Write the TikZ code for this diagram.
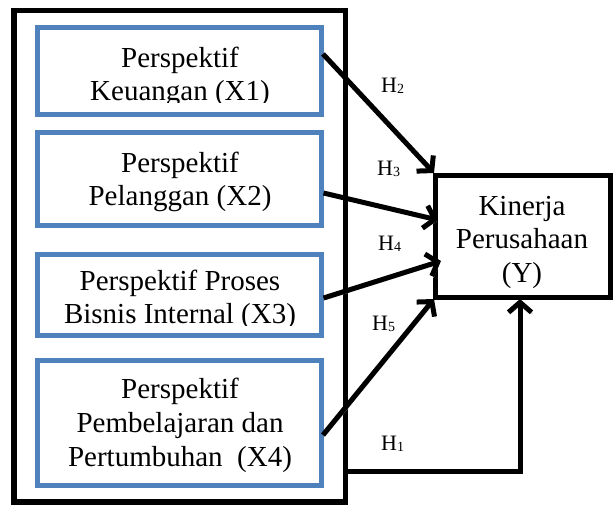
\documentclass[tikz,border=0pt]{standalone}
\usepackage{fontspec}
\setmainfont{Liberation Serif}
\usetikzlibrary{arrows.meta,calc}
\definecolor{boxblue}{RGB}{79,129,189}
\newcommand\mylines[1]{\begin{tabular}[t]{@{}c@{}}#1\end{tabular}}
\newcommand\hsub[1]{H\raisebox{-1pt}{\fontsize{14}{14}\selectfont #1}}
\begin{document}
\begin{tikzpicture}[x=1pt,y=-1pt,
  bluebox/.style={draw=boxblue, line width=5pt, inner sep=0pt, outer sep=0pt},
  blackbox/.style={draw=black, line width=5pt, inner sep=0pt, outer sep=0pt},
  ptext/.style={anchor=base, inner sep=0pt, font=\fontsize{29}{33.5}\selectfont},
  hlabel/.style={anchor=base west, inner sep=0pt, font=\fontsize{22}{22}\selectfont},
  arr/.style={line width=5pt, -{Straight Barb[length=10pt,width=23pt]},
    preaction={draw=black!30, transform canvas={xshift=1.5pt,yshift=-2pt}}},
]
\useasboundingbox (0,0) rectangle (613,504);
\fill[white] (0,0) rectangle (613,504);

% outer frame
\node[blackbox, line width=5.5pt, minimum width=331.5pt, minimum height=491.5pt] (outer) at (179.75,256.25) {};

% perspective boxes
\node[bluebox, minimum width=284pt, minimum height=87pt] (x1) at (179.5,71) {};
\node[bluebox, minimum width=284pt, minimum height=93pt] (x2) at (179.5,179) {};
\node[bluebox, minimum width=284pt, minimum height=81pt] (x3) at (179.5,295) {};
\node[bluebox, minimum width=284pt, minimum height=125pt] (x4) at (179.5,423) {};

\begin{scope}
\clip (40,30) rectangle (319,102);
\node[ptext] (t1) at (180,67) {\mylines{Perspektif\\Keuangan (X1)}};
\end{scope}
\node[ptext] (t2) at (180,172) {\mylines{Perspektif\\Pelanggan (X2)}};
\begin{scope}
\clip (40,257) rectangle (319,325);
\node[ptext] (t3) at (180,290) {\mylines{Perspektif Proses\\Bisnis Internal (X3)}};
\end{scope}
\node[ptext, font=\fontsize{29}{34}\selectfont] (t4) at (180,398) {\mylines{Perspektif\\Pembelajaran dan\\Pertumbuhan\ \ (X4)}};

% dependent variable
\node[blackbox, minimum width=175.5pt, minimum height=122pt] (Y) at (522.75,236) {};
\node[ptext] (ty) at (522,215) {\mylines{Kinerja\\Perusahaan\\(Y)}};

% arrows
\draw[arr] ($(x1.east)+(1.5,-17)$) -- ($(Y.north west)+(-1,-2)$);
\draw[arr] ($(x2.east)+(2,14)$) -- ($(Y.west)+(3,-16)$);
\draw[arr] ($(x3.east)+(2,3)$) -- ($(Y.west)+(6,25)$);
\draw[arr] ($(x4.east)+(1.5,12)$) -- ($(Y.south west)+(-1,2)$);
\draw[arr] ($(outer.east)+(2.5,215)$) -| ($(Y.south)+(-2.75,2)$);

% labels
\node[hlabel] (h2) at (381,92) {\hsub{2}};
\node[hlabel] (h3) at (377,175) {\hsub{3}};
\node[hlabel] (h4) at (378,250) {\hsub{4}};
\node[hlabel] (h5) at (372,330) {\hsub{5}};
\node[hlabel] (h1) at (381,450) {\hsub{1}};
\end{tikzpicture}
\end{document}
